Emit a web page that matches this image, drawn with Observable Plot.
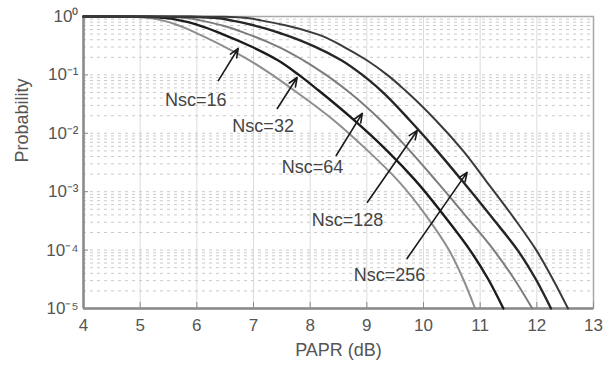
<!DOCTYPE html>
<html>
<head>
<meta charset="utf-8">
<script src="https://cdn.jsdelivr.net/npm/d3@7"></script>
<script src="https://cdn.jsdelivr.net/npm/@observablehq/plot@0.6"></script>
<style>
  html, body { margin: 0; padding: 0; background: #fff; }
  #chart { width: 603px; height: 372px; }
</style>
</head>
<body>
<div id="chart"></div>
<script>
// ---- data ----
const paprTicks = [4, 5, 6, 7, 8, 9, 10, 11, 12, 13];
const probTicks = [1, 0.1, 0.01, 0.001, 0.0001, 0.00001];
const probTickLabels = ["10⁰", "10⁻¹", "10⁻²", "10⁻³", "10⁻⁴", "10⁻⁵"];

// shared probability levels at which each curve's PAPR is read
const probLevels = [1, 0.99, 0.95, 0.85, 0.70, 0.50, 0.30, 0.178, 0.10, 0.054, 0.0166, 0.005, 0.00155, 0.00035, 0.0001, 0.000032, 0.00001];

const seriesNames = ["Nsc=16", "Nsc=32", "Nsc=64", "Nsc=128", "Nsc=256"];
const papr16  = [4, 4.8, 5.1, 5.4, 5.68, 6.03, 6.5, 6.93, 7.33, 7.72, 8.42, 9.02, 9.55, 10.08, 10.45, 10.7, 10.91];
const papr32  = [4, 5.1, 5.4, 5.72, 6.05, 6.45, 6.98, 7.43, 7.8, 8.15, 8.78, 9.36, 9.86, 10.4, 10.82, 11.14, 11.41];
const papr64  = [4, 5.4, 5.75, 6.08, 6.45, 6.9, 7.45, 7.88, 8.28, 8.65, 9.25, 9.76, 10.22, 10.78, 11.24, 11.6, 11.92];
const papr128 = [4, 5.9, 6.3, 6.62, 7.02, 7.52, 8.1, 8.55, 8.92, 9.25, 9.76, 10.24, 10.68, 11.22, 11.66, 11.98, 12.25];
const papr256 = [4, 6.5, 6.85, 7.15, 7.58, 8.12, 8.6, 9.0, 9.36, 9.68, 10.22, 10.7, 11.1, 11.6, 11.99, 12.28, 12.55];

// annotation labels and arrows (data coordinates)
const labelX = [5.98, 7.17, 8.04, 8.66, 9.40];
const labelY = [0.0365, 0.0131, 0.00259, 0.00033, 0.000037];
const arrowFromX = [6.38, 7.42, 8.46, 9.01, 9.71];
const arrowFromY = [0.080, 0.0266, 0.00417, 0.00066, 0.000072];
const arrowToX = [6.73, 7.77, 8.92, 9.89, 10.77];
const arrowToY = [0.283, 0.0902, 0.0219, 0.0112, 0.00214];

// ---- build tables ----
const seriesPapr = [papr16, papr32, papr64, papr128, papr256];
const curveColors = ["#8e8e8e", "#1c1c1c", "#7c7c7c", "#262626", "#3a3a3a"];
const curveWidths = [2, 2.4, 2, 2.4, 2];

const curves = seriesPapr.map((arr, i) =>
  arr.map((x, j) => ({series: seriesNames[i], x, p: probLevels[j]}))
);
const labels = seriesNames.map((name, i) => ({name, x: labelX[i], y: labelY[i]}));
const arrows = seriesNames.map((name, i) => ({
  x1: arrowFromX[i], y1: arrowFromY[i], x2: arrowToX[i], y2: arrowToY[i]
}));

const gridProb = [];
for (let e = -5; e <= -1; e++) for (let m = 1; m <= 9; m++) gridProb.push(m * Math.pow(10, e));

const fontFamily = "'Liberation Sans', Arial, sans-serif";

const chart = Plot.plot({
  width: 603,
  height: 372,
  marginLeft: 83,
  marginRight: 10,
  marginTop: 16,
  marginBottom: 64,
  style: {fontFamily, background: "#fff", color: "#555"},
  x: {domain: [4, 13]},
  y: {type: "log", domain: [0.00001, 1]},
  marks: [
    Plot.ruleX(paprTicks, {stroke: "#dcdcdc", strokeWidth: 1}),
    Plot.ruleY(gridProb, {stroke: "#cacaca", strokeWidth: 1, strokeDasharray: "3,4"}),
    Plot.frame({stroke: "#a8a8a8", strokeWidth: 1.5}),
    Plot.axisX({ticks: paprTicks, tickSize: -6, tickFormat: () => "", stroke: "#888"}),
    Plot.axisX({ticks: paprTicks, tickSize: 0, tickPadding: 10, fontSize: 17, fill: "#555", label: null}),
    Plot.axisY({ticks: probTicks, tickSize: -5, tickFormat: () => "", stroke: "#888"}),
    Plot.axisY({ticks: probTicks, tickSize: 0, tickPadding: 5, fontSize: 17, fill: "#555", label: null,
      tickFormat: (d) => probTickLabels[probTicks.findIndex(v => Math.abs(v - d) / v < 1e-6)]}),
    Plot.ruleX([4], {stroke: "#8a8a8a", strokeWidth: 2.5}),
    Plot.ruleY([0.00001], {stroke: "#8a8a8a", strokeWidth: 2.5}),
    ...curves.map((data, i) => Plot.line(data, {
      x: "x", y: "p", stroke: curveColors[i], strokeWidth: curveWidths[i], curve: "monotone-y"
    })),
    Plot.arrow(arrows, {x1: "x1", y1: "y1", x2: "x2", y2: "y2", stroke: "#1a1a1a", strokeWidth: 1.6, headLength: 9, headAngle: 45}),
    Plot.text(labels, {x: "x", y: "y", text: "name", fontSize: 18, fill: "#444"}),
    Plot.text(["PAPR (dB)"], {frameAnchor: "bottom", dy: 47, fontSize: 18, fill: "#555"}),
    Plot.text(["Probability"], {frameAnchor: "left", dx: -61, rotate: -90, fontSize: 18, fill: "#555"})
  ]
});
document.getElementById("chart").appendChild(chart);
</script>
</body>
</html>
